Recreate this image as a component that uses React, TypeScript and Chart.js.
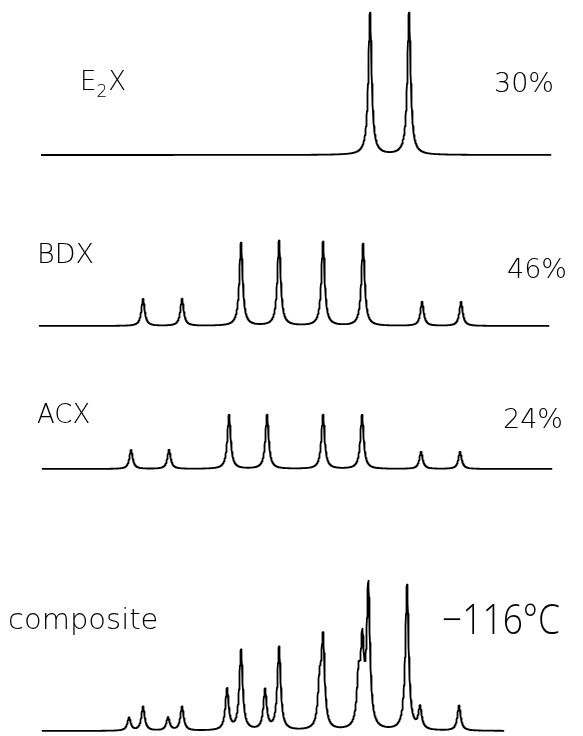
import React, { useEffect, useRef } from "react";
import { Chart, registerables } from "chart.js";

Chart.register(...registerables);

// ---- Data (x: spectral position, y: line intensity) ----
const E2X_POS = [370, 409];
const E2X_HT = [142, 142];
const E2X_RANGE = [41, 551];

const BDX_POS = [143, 182, 241, 279, 323, 363, 422, 461];
const BDX_HT = [27, 27, 83, 85, 84, 82, 24, 24];
const BDX_RANGE = [39, 549];

const ACX_POS = [131, 169, 229, 267, 323, 362, 421, 460];
const ACX_HT = [19, 19, 54, 54, 54, 54, 17, 17];
const ACX_RANGE = [42, 552];

const COMP_POS = [129, 143, 168, 182, 227, 241, 265, 279, 319.5, 323, 358.5, 362.3, 368.3, 407, 420, 459];
const COMP_HT = [13, 24, 13, 24, 41, 80, 40, 83, 40, 88, 45, 78, 140, 145, 22, 25];
const COMP_RANGE = [42, 504];

const LABELS_LEFT = ["E2X", "BDX", "ACX", "composite"];
const LABELS_RIGHT = ["30%", "46%", "24%", "−116°C"];

const LINE_HWHM = 2.0;
const SAMPLE_STEP = 0.25;

// layout (pixels)
const W = 583;
const H = 736;
const BASE_E = 155;
const BASE_B = 326;
const BASE_A = 469;
const BASE_C = 731;

function spectrum(pos: number[], ht: number[], range: number[]) {
  const pts: { x: number; y: number }[] = [];
  for (let x = range[0]; x <= range[1] + 1e-9; x += SAMPLE_STEP) {
    let y = 0;
    for (let i = 0; i < pos.length; i++) {
      const d = (x - pos[i]) / LINE_HWHM;
      y += ht[i] / (1 + d * d);
    }
    pts.push({ x, y });
  }
  return pts;
}

const FONT_FAMILY = '"DejaVu Sans", sans-serif';
const WEIGHT = 200;

const labelsPlugin = {
  id: "specLabels",
  afterDraw(chart: any) {
    const ctx = chart.ctx as CanvasRenderingContext2D;
    ctx.save();
    ctx.fillStyle = "#000";
    ctx.textBaseline = "alphabetic";
    ctx.textAlign = "left";
    // E2X with subscript
    ctx.font = `${WEIGHT} 26px ${FONT_FAMILY}`;
    ctx.fillText("E", 80, 90);
    const eW = ctx.measureText("E").width;
    ctx.font = `${WEIGHT} 17px ${FONT_FAMILY}`;
    ctx.fillText("2", 80 + eW, 97);
    const sW = ctx.measureText("2").width;
    ctx.font = `${WEIGHT} 26px ${FONT_FAMILY}`;
    ctx.fillText("X", 80 + eW + sW + 1, 90);

    ctx.font = `${WEIGHT} 27px ${FONT_FAMILY}`;
    ctx.fillText(LABELS_LEFT[1], 37, 263);
    ctx.font = `${WEIGHT} 26px ${FONT_FAMILY}`;
    ctx.fillText(LABELS_LEFT[2], 37, 423);
    ctx.font = `${WEIGHT} 29px ${FONT_FAMILY}`;
    ctx.fillText(LABELS_LEFT[3], 8, 629);

    ctx.font = `${WEIGHT} 27px ${FONT_FAMILY}`;
    ctx.fillText(LABELS_RIGHT[0], 494, 92);
    ctx.fillText(LABELS_RIGHT[1], 507, 278);
    ctx.fillText(LABELS_RIGHT[2], 503, 428);
    ctx.font = `300 42px "Open Sans", "DejaVu Sans", sans-serif`;
    ctx.fillText(LABELS_RIGHT[3], 442, 634, 118);
    ctx.restore();
  },
};

export default function App() {
  const ref = useRef<HTMLCanvasElement | null>(null);

  useEffect(() => {
    if (!ref.current) return;
    const mk = (data: any[], axis: string) => ({
      data,
      yAxisID: axis,
      borderColor: "#000",
      borderWidth: 1.8,
      borderJoinStyle: "round" as const,
      pointRadius: 0,
      fill: false,
      tension: 0,
    });
    const yAxis = (base: number) => ({
      type: "linear" as const,
      display: false,
      min: base - H,
      max: base,
    });
    const chart = new Chart(ref.current, {
      type: "line",
      data: {
        datasets: [
          mk(spectrum(E2X_POS, E2X_HT, E2X_RANGE), "yE"),
          mk(spectrum(BDX_POS, BDX_HT, BDX_RANGE), "yB"),
          mk(spectrum(ACX_POS, ACX_HT, ACX_RANGE), "yA"),
          mk(spectrum(COMP_POS, COMP_HT, COMP_RANGE), "yC"),
        ],
      },
      options: {
        animation: false,
        responsive: false,
        devicePixelRatio: 1,
        layout: { padding: 0 },
        plugins: { legend: { display: false }, tooltip: { enabled: false } },
        scales: {
          x: { type: "linear", display: false, min: 0, max: W },
          yE: yAxis(BASE_E),
          yB: yAxis(BASE_B),
          yA: yAxis(BASE_A),
          yC: yAxis(BASE_C),
        },
      },
      plugins: [labelsPlugin],
    });
    return () => chart.destroy();
  }, []);

  return (
    <div style={{ position: "fixed", left: 0, top: 0, width: W, height: H, background: "#fff" }}>
      <canvas ref={ref} width={W} height={H} style={{ display: "block" }} />
    </div>
  );
}
